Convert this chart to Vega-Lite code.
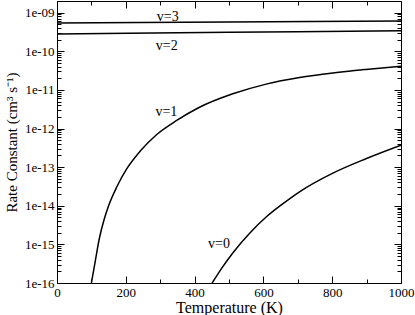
{
  "$schema": "https://vega.github.io/schema/vega-lite/v6.json",
  "width": 344,
  "height": 282,
  "autosize": {"type": "none"},
  "padding": {"left": 57, "top": 1, "right": 14, "bottom": 32},
  "background": "white",
  "config": {
    "view": {"stroke": "black", "strokeWidth": 1},
    "font": "Liberation Serif, Times New Roman, serif",
    "axis": {
      "grid": false,
      "domain": false,
      "labelFont": "Liberation Serif, Times New Roman, serif",
      "titleFont": "Liberation Serif, Times New Roman, serif",
      "labelColor": "black",
      "titleColor": "black",
      "tickColor": "black",
      "labelFontSize": 13,
      "titleFontSize": 16,
      "titleFontWeight": "normal",
      "labelFlush": false,
      "labelOverlap": false
    }
  },
  "datasets": {
    "lines": [
      {"series": "v=3", "T": 0, "k": 5.4e-10},
      {"series": "v=3", "T": 500, "k": 5.75e-10},
      {"series": "v=3", "T": 1000, "k": 6.1e-10},
      {"series": "v=2", "T": 0, "k": 2.8e-10},
      {"series": "v=2", "T": 500, "k": 3.1e-10},
      {"series": "v=2", "T": 1000, "k": 3.4e-10},
      {"series": "v=1", "T": 100, "k": 1e-16},
      {"series": "v=1", "T": 111, "k": 3.6e-16},
      {"series": "v=1", "T": 124, "k": 1.55e-15},
      {"series": "v=1", "T": 137, "k": 4.4e-15},
      {"series": "v=1", "T": 150, "k": 1.0e-14},
      {"series": "v=1", "T": 174, "k": 3.1e-14},
      {"series": "v=1", "T": 203, "k": 9.1e-14},
      {"series": "v=1", "T": 242, "k": 2.6e-13},
      {"series": "v=1", "T": 290, "k": 7.0e-13},
      {"series": "v=1", "T": 348, "k": 1.62e-12},
      {"series": "v=1", "T": 410, "k": 3.4e-12},
      {"series": "v=1", "T": 511, "k": 7.9e-12},
      {"series": "v=1", "T": 608, "k": 1.41e-11},
      {"series": "v=1", "T": 705, "k": 2.09e-11},
      {"series": "v=1", "T": 802, "k": 2.75e-11},
      {"series": "v=1", "T": 898, "k": 3.39e-11},
      {"series": "v=1", "T": 1000, "k": 4.1e-11},
      {"series": "v=0", "T": 451, "k": 1e-16},
      {"series": "v=0", "T": 480, "k": 2.5e-16},
      {"series": "v=0", "T": 511, "k": 6.0e-16},
      {"series": "v=0", "T": 560, "k": 1.95e-15},
      {"series": "v=0", "T": 608, "k": 5.1e-15},
      {"series": "v=0", "T": 655, "k": 1.1e-14},
      {"series": "v=0", "T": 705, "k": 2.3e-14},
      {"series": "v=0", "T": 802, "k": 7.0e-14},
      {"series": "v=0", "T": 898, "k": 1.65e-13},
      {"series": "v=0", "T": 1000, "k": 3.7e-13}
    ],
    "labels": [
      {"label": "v=3", "T": 322, "k": 7.6e-10},
      {"label": "v=2", "T": 319, "k": 1.4e-10},
      {"label": "v=1", "T": 318, "k": 2.75e-12},
      {"label": "v=0", "T": 471, "k": 1.05e-15}
    ]
  },
  "resolve": {"axis": {"x": "independent", "y": "independent"}},
  "layer": [
    {
      "data": {"name": "lines"},
      "mark": {"type": "line", "color": "black", "strokeWidth": 1.5, "interpolate": "monotone", "clip": true},
      "encoding": {
        "x": {
          "field": "T", "type": "quantitative",
          "scale": {"domain": [0, 1000], "nice": false, "zero": false},
          "axis": {"orient": "bottom", "values": [0, 200, 400, 600, 800, 1000], "format": "d", "tickSize": -7, "labelPadding": 10, "title": "Temperature (K)", "titlePadding": 0}
        },
        "y": {
          "field": "k", "type": "quantitative",
          "scale": {"type": "log", "domain": [1e-16, 2e-9], "nice": false},
          "axis": {
            "orient": "left",
            "values": [1e-16, 1e-15, 1e-14, 1e-13, 1e-12, 1e-11, 1e-10, 1e-9],
            "labelExpr": "'1e-' + (round(-log(datum.value)/LN10) < 10 ? '0' : '') + round(-log(datum.value)/LN10)",
            "tickSize": -7, "labelPadding": 10,
            "title": "Rate Constant (cm³ s⁻¹)", "titleFontSize": 15, "titlePadding": 5
          }
        },
        "detail": {"field": "series"}
      }
    },
    {
      "data": {"name": "labels"},
      "mark": {"type": "text", "font": "Liberation Serif, Times New Roman, serif", "fontSize": 14, "color": "black", "baseline": "middle", "align": "center"},
      "encoding": {
        "x": {"field": "T", "type": "quantitative", "axis": {"orient": "top", "values": [0, 200, 400, 600, 800, 1000], "tickSize": -7, "labels": false, "title": null}},
        "y": {"field": "k", "type": "quantitative", "axis": {"orient": "right", "values": [1e-16, 1e-15, 1e-14, 1e-13, 1e-12, 1e-11, 1e-10, 1e-9], "tickSize": -7, "labels": false, "title": null}},
        "text": {"field": "label"}
      }
    },
    {
      "data": {"name": "labels"},
      "mark": {"type": "point", "opacity": 0},
      "encoding": {
        "x": {"field": "T", "type": "quantitative", "axis": {"orient": "bottom", "values": [100, 300, 500, 700, 900], "tickSize": -4, "labels": false, "title": null}},
        "y": {"field": "k", "type": "quantitative", "axis": {"orient": "left", "values": [2e-16,3e-16,4e-16,5e-16,6e-16,7e-16,8e-16,9e-16,2e-15,3e-15,4e-15,5e-15,6e-15,7e-15,8e-15,9e-15,2e-14,3e-14,4e-14,5e-14,6e-14,7e-14,8e-14,9e-14,2e-13,3e-13,4e-13,5e-13,6e-13,7e-13,8e-13,9e-13,2e-12,3e-12,4e-12,5e-12,6e-12,7e-12,8e-12,9e-12,2e-11,3e-11,4e-11,5e-11,6e-11,7e-11,8e-11,9e-11,2e-10,3e-10,4e-10,5e-10,6e-10,7e-10,8e-10,9e-10], "tickSize": -4, "labels": false, "title": null}}
      }
    },
    {
      "data": {"name": "labels"},
      "mark": {"type": "point", "opacity": 0},
      "encoding": {
        "x": {"field": "T", "type": "quantitative", "axis": {"orient": "top", "values": [100, 300, 500, 700, 900], "tickSize": -4, "labels": false, "title": null}},
        "y": {"field": "k", "type": "quantitative", "axis": {"orient": "right", "values": [2e-16,3e-16,4e-16,5e-16,6e-16,7e-16,8e-16,9e-16,2e-15,3e-15,4e-15,5e-15,6e-15,7e-15,8e-15,9e-15,2e-14,3e-14,4e-14,5e-14,6e-14,7e-14,8e-14,9e-14,2e-13,3e-13,4e-13,5e-13,6e-13,7e-13,8e-13,9e-13,2e-12,3e-12,4e-12,5e-12,6e-12,7e-12,8e-12,9e-12,2e-11,3e-11,4e-11,5e-11,6e-11,7e-11,8e-11,9e-11,2e-10,3e-10,4e-10,5e-10,6e-10,7e-10,8e-10,9e-10], "tickSize": -4, "labels": false, "title": null}}
      }
    }
  ]
}
